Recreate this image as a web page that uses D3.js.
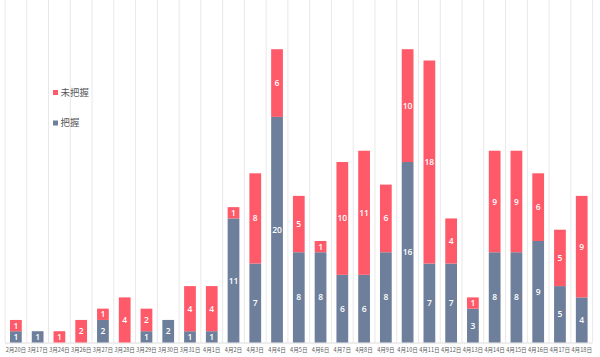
<!DOCTYPE html>
<html><head><meta charset="utf-8">
<script src="https://cdn.jsdelivr.net/npm/d3@7"></script>
<style>body{margin:0;background:#fff;}svg{display:block;font-family:"Noto Sans CJK SC","Noto Sans",sans-serif;}</style>
</head><body><svg id="c" width="600" height="357"></svg>
<script>
const categories = ["2月20日","3月17日","3月24日","3月26日","3月27日","3月28日","3月29日","3月30日","3月31日","4月1日","4月2日","4月3日","4月4日","4月5日","4月6日","4月7日","4月8日","4月9日","4月10日","4月11日","4月12日","4月13日","4月14日","4月15日","4月16日","4月17日","4月18日"];
const grasped =   [1,1,0,0,2,0,1,2,1,1,11,7,20,8,8,6,6,8,16,7,7,3,8,8,9,5,4];
const ungrasped = [1,0,1,2,1,4,2,0,4,4,1,8,6,5,1,10,11,6,10,18,4,1,9,9,6,5,9];
const seriesNames = ["把握","未把握"];
const colors = ["#6e7f9b","#ff5a6a"];

const svg = d3.select("#c");
const left = 5, right = 592.6, baseY = 342.5, unit = 11.28;
const x = d3.scaleBand().domain(categories).range([left, right]).paddingInner(0.46).paddingOuter(0.23);
const y = d3.scaleLinear().domain([0, 26]).range([baseY, baseY - 26*unit]);

// gridlines at category boundaries
const bounds = d3.range(categories.length + 1).map(i => left + i * (right - left) / categories.length);
svg.append("g").selectAll("line").data(bounds).join("line")
  .attr("x1", d => d).attr("x2", d => d).attr("y1", 0).attr("y2", baseY)
  .attr("stroke", "#e8e8e8").attr("stroke-width", 1);

svg.append("line").attr("x1", left).attr("x2", right).attr("y1", baseY + 0.5).attr("y2", baseY + 0.5)
  .attr("stroke", "#dcdcdc");

const data = categories.map((c, i) => ({c, g: grasped[i], u: ungrasped[i]}));
const stack = d3.stack().keys(["g","u"])(data);

stack.forEach((layer, li) => {
  const g = svg.append("g");
  g.selectAll("rect").data(layer.filter(d => d[1] > d[0])).join("rect")
    .attr("x", d => x(d.data.c)).attr("width", x.bandwidth())
    .attr("y", d => y(d[1])).attr("height", d => y(d[0]) - y(d[1]))
    .attr("fill", colors[li]);
  g.selectAll("text").data(layer.filter(d => d[1] > d[0])).join("text")
    .attr("x", d => x(d.data.c) + x.bandwidth()/2)
    .attr("y", d => (y(d[0]) + y(d[1]))/2)
    .attr("dy", "0.36em").attr("text-anchor", "middle")
    .attr("fill", "#fff").attr("font-size", 8.5).attr("font-weight", "600")
    .attr("font-family", "'Open Sans',sans-serif")
    .text(d => d[1] - d[0]);
});

// x axis labels
const xAxis = d3.axisBottom(x).tickSize(0).tickPadding(5.5);
const ax = svg.append("g").attr("transform", `translate(0,${baseY})`).call(xAxis);
ax.select(".domain").remove();
ax.selectAll("text").attr("font-size", 5.6).attr("fill", "#595959")
  .attr("font-family", "'Noto Sans CJK SC',sans-serif");

// legend
const legend = [{name: seriesNames[1], color: colors[1], y: 92.5}, {name: seriesNames[0], color: colors[0], y: 123}];
const lg = svg.append("g");
lg.selectAll("rect").data(legend).join("rect")
  .attr("x", 53).attr("y", d => d.y - 2.5).attr("width", 5).attr("height", 5).attr("fill", d => d.color);
lg.selectAll("text").data(legend).join("text")
  .attr("x", 60.5).attr("y", d => d.y).attr("dy", "0.35em")
  .attr("font-size", 9.5).attr("fill", "#595959").text(d => d.name);
</script></body></html>
